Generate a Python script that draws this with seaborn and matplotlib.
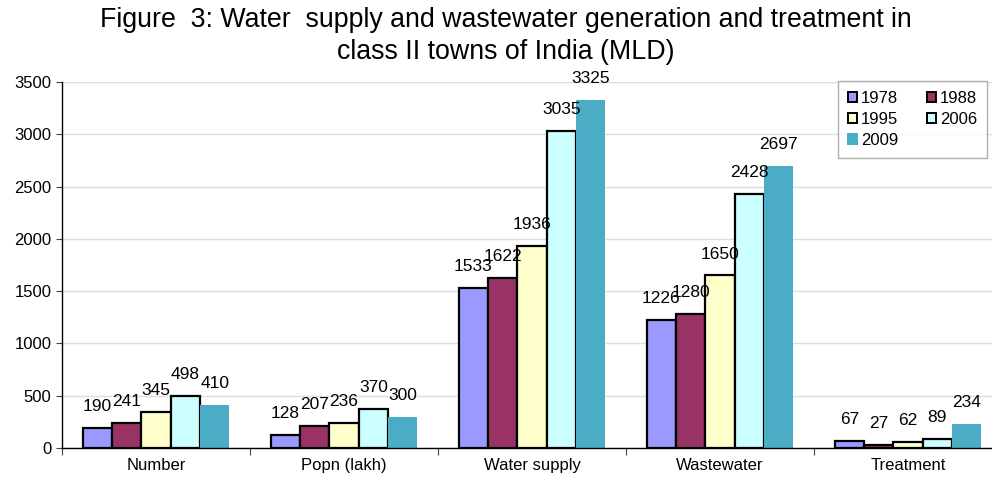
import matplotlib
matplotlib.use("Agg")
import matplotlib.pyplot as plt
import seaborn as sns
import pandas as pd
import numpy as np
from matplotlib.ticker import FixedLocator
from matplotlib.patches import Patch

categories = ["Number", "Popn (lakh)", "Water supply", "Wastewater", "Treatment"]
years = ["1978", "1988", "1995", "2006", "2009"]
v1978 = [190, 128, 1533, 1226, 67]
v1988 = [241, 207, 1622, 1280, 27]
v1995 = [345, 236, 1936, 1650, 62]
v2006 = [498, 370, 3035, 2428, 89]
v2009 = [410, 300, 3325, 2697, 234]
yticks = [0, 500, 1000, 1500, 2000, 2500, 3000, 3500]
title = "Figure  3: Water  supply and wastewater generation and treatment in\nclass II towns of India (MLD)"

colors = ["#9999FF", "#993366", "#FFFFCC", "#CCFFFF", "#4BACC6"]

series = {"1978": v1978, "1988": v1988, "1995": v1995, "2006": v2006, "2009": v2009}
rows = []
for y in years:
    for c, v in zip(categories, series[y]):
        rows.append({"Category": c, "Year": y, "Value": v})
df = pd.DataFrame(rows)

sns.set_style("white")
plt.rcParams["font.family"] = ["Liberation Sans", "DejaVu Sans"]
plt.rcParams["text.color"] = "black"

fig = plt.figure(figsize=(9.92, 4.79), dpi=100)
ax = fig.add_axes([62/992, 31/479, 940/992, 366/479])

sns.barplot(data=df, x="Category", y="Value", hue="Year", order=categories,
            hue_order=years, palette=colors, width=0.78, gap=0, ax=ax,
            saturation=1, legend=False)

for i, cont in enumerate(ax.containers):
    for bar in cont:
        if i < 4:
            bar.set_edgecolor("black")
            bar.set_linewidth(1.6)
        else:
            bar.set_edgecolor("none")
            bar.set_linewidth(0)
    ax.bar_label(cont, labels=[str(v) for v in series[years[i]]], padding=10,
                 fontsize=12.5, color="black")

ax.set_ylim(0, 3500)
ax.set_xlim(-0.5, 4.5)
ax.set_yticks(yticks)
ax.yaxis.grid(True, color="#DDDDDD", linewidth=1)
ax.set_axisbelow(True)
ax.set_xlabel("")
ax.set_ylabel("")
ax.tick_params(axis="y", labelsize=12, length=4, width=0.8, direction="out", left=True,
               color="#444444", labelcolor="black")
ax.tick_params(axis="x", which="major", labelsize=12, length=0, pad=7, labelcolor="black")
ax.xaxis.set_minor_locator(FixedLocator([-0.5, 0.5, 1.5, 2.5, 3.5, 4.5]))
ax.tick_params(axis="x", which="minor", length=5, width=0.8, direction="out", bottom=True, color="#444444")
for s in ["top", "right"]:
    ax.spines[s].set_visible(False)
for s in ["left", "bottom"]:
    ax.spines[s].set_color("black")
    ax.spines[s].set_linewidth(1)

handles = []
for i, (y, c) in enumerate(zip(years, colors)):
    ec = "black" if i < 4 else c
    handles.append(Patch(facecolor=c, edgecolor=ec, linewidth=1.4, label=y))
order = [0, 2, 4, 1, 3]
leg = fig.legend([handles[k] for k in order], [years[k] for k in order],
                 loc="upper right", bbox_to_anchor=(987/992, 1 - 81/479),
                 ncol=2, fontsize=12, frameon=True, fancybox=False, handlelength=0.55,
                 handleheight=0.55, handletextpad=0.25, columnspacing=1.7, labelspacing=0.35,
                 borderpad=0.6, borderaxespad=0, edgecolor="#999999")
leg.get_frame().set_linewidth(1)

fig.text(506/992, 1 - 36/479, title, ha="center", va="center", fontsize=19.3,
         linespacing=1.3, color="black")

fig.savefig("out.png", dpi=100)
